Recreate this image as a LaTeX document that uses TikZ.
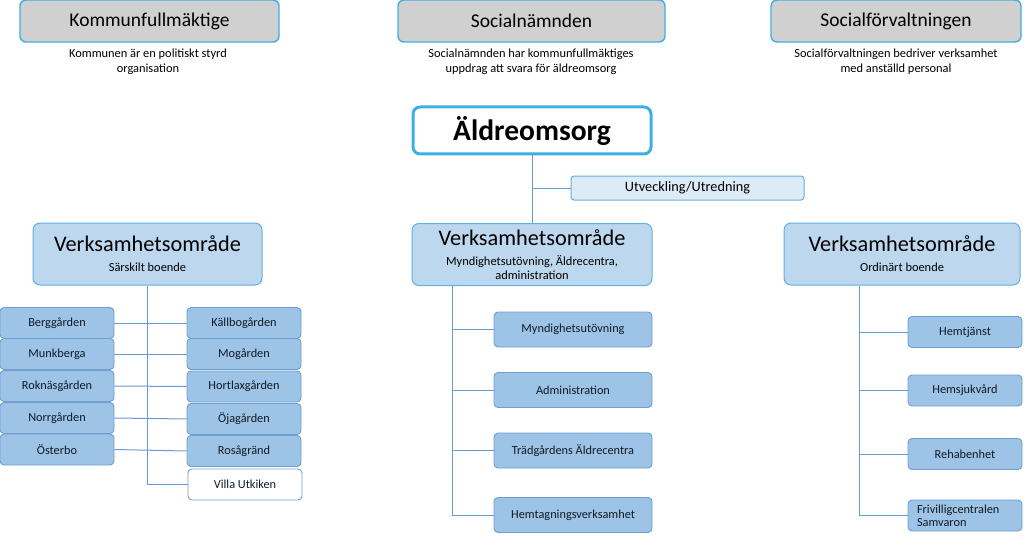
\documentclass[tikz,border=0pt]{standalone}
\usepackage{fontspec}
\setmainfont{Carlito}

\definecolor{framecyan}{HTML}{3DB0E3}
\definecolor{headgray}{HTML}{D0D0D0}
\definecolor{vofill}{HTML}{BDD7EE}
\definecolor{voline}{HTML}{5FB0E2}
\definecolor{unitfill}{HTML}{9DC3E6}
\definecolor{unitline}{HTML}{6E9FD0}
\definecolor{linkline}{HTML}{6A9AD0}
\definecolor{utvfill}{HTML}{DDEBF7}
\definecolor{textdark}{HTML}{111A26}

\newcommand\subfont{\fontsize{12.4}{14.5}\selectfont}

\tikzset{
  headbox/.style={draw=framecyan, line width=1.4pt, fill=headgray, rounded corners=6pt,
    minimum width=259pt, minimum height=42pt, inner sep=0pt, font=\fontsize{19.5}{21}\selectfont},
  headnote/.style={align=center, font=\fontsize{12.4}{15}\selectfont},
  mainbox/.style={draw=framecyan, line width=3pt, fill=white, rounded corners=7pt,
    minimum width=238pt, minimum height=47pt, inner sep=0pt, font=\fontsize{29.5}{32}\bfseries},
  vobox/.style={draw=voline, line width=1pt, fill=vofill, rounded corners=7pt,
    minimum height=62pt, inner sep=0pt, align=center, font=\fontsize{22.3}{22}\selectfont},
  unitbox/.style={draw=unitline, line width=0.9pt, fill=unitfill, rounded corners=4pt,
    minimum width=114pt, minimum height=31pt, inner sep=0pt, text=textdark,
    font=\fontsize{12.3}{13}\selectfont},
  wideunit/.style={unitbox, minimum width=158pt, minimum height=35pt},
  link/.style={draw=linkline, line width=1pt}
}

\begin{document}
\begin{tikzpicture}[x=1pt, y=-1pt]
  \useasboundingbox (0,0) rectangle (1024,540);

  % Top row: the political organisation
  \node[headbox] (kf) at (149.5,21) {Kommunfullmäktige};
  \node[headbox, minimum width=267pt] (sn) at (531.5,21) {Socialnämnden};
  \node[headbox, minimum width=250pt] (sf) at (896,21) {Socialförvaltningen};
  \node[headnote] (kfnote) at (148,62) {Kommunen är en politiskt styrd\\organisation};
  \node[headnote] (snnote) at (531,62) {Socialnämnden har kommunfullmäktiges\\uppdrag att svara för äldreomsorg};
  \node[headnote] (sfnote) at (896,62) {Socialförvaltningen bedriver verksamhet\\med anställd personal};

  % Main box and staff unit
  \node[mainbox] (aldre) at (532,130.5) {Äldreomsorg};
  \node[draw=voline, line width=1pt, fill=utvfill, rounded corners=3pt, minimum width=233pt,
    minimum height=24pt, inner sep=0pt, font=\fontsize{14.3}{16}\selectfont] (utv) at (687.5,188) {Utveckling/Utredning};

  % The three areas
  \node[vobox, minimum width=229pt] (vosar) at (147.5,254) {Verksamhetsområde\\[-2pt]\subfont Särskilt boende};
  \node[vobox, minimum width=240pt] (vomid) at (532,254.5) {Verksamhetsområde\\[-2pt]\subfont Myndighetsutövning, Äldrecentra,\\[-8pt]\subfont administration};
  \node[vobox, minimum width=236pt] (voord) at (902,254) {Verksamhetsområde\\[-2pt]\subfont Ordinärt boende};

  \draw[link] (aldre.south) -- (vomid.north);
  \draw[link] (aldre.south |- utv.west) -- (utv.west);

  % Särskilt boende, two columns
  \node[unitbox] (berg) at (57,323) {Berggården};
  \node[unitbox] (munk) at (57,354) {Munkberga};
  \node[unitbox] (rokn) at (57,386) {Roknäsgården};
  \node[unitbox] (norr) at (57,418) {Norrgården};
  \node[unitbox] (oster) at (57,449.5) {Österbo};
  \node[unitbox] (kall) at (244,323) {Källbogården};
  \node[unitbox] (mog) at (244,354) {Mogården};
  \node[unitbox] (hort) at (244,386.5) {Hortlaxgården};
  \node[unitbox] (oja) at (244,419) {Öjagården};
  \node[unitbox] (rosa) at (244,451) {Rosågränd};
  \node[unitbox, fill=white] (villa) at (245,484.5) {Villa Utkiken};

  \draw[link] (vosar.south) -- (vosar.south |- villa.west) -- (villa.west);
  \draw[link] (berg.east) -- (kall.west);
  \draw[link] (munk.east) -- (mog.west);
  \draw[link] (rokn.east) -- (hort.west);
  \draw[link] (norr.east) -- (oja.west);
  \draw[link] (oster.east) -- (rosa.west);

  % Myndighetsutövning, Äldrecentra, administration
  \node[wideunit] (myn) at (573,329.5) {Myndighetsutövning};
  \node[wideunit] (adm) at (573,390) {Administration};
  \node[wideunit] (trad) at (573,450.5) {Trädgårdens Äldrecentra};
  \node[wideunit] (hemt) at (573,515) {Hemtagningsverksamhet};
  \coordinate (midspine) at ([xshift=41pt]vomid.south west);
  \draw[link] (midspine) -- (midspine |- hemt.west) -- (hemt.west);
  \foreach \unit in {myn,adm,trad}
    \draw[link] (midspine |- \unit.west) -- (\unit.west);

  % Ordinärt boende
  \node[unitbox] (hemtj) at (965,332) {Hemtjänst};
  \node[unitbox] (hemsj) at (965,390.5) {Hemsjukvård};
  \node[unitbox] (rehab) at (965,454) {Rehabenhet};
  \node[unitbox, text width=96pt, align=left, inner xsep=9pt, font=\fontsize{12.3}{13}\selectfont] (friv) at (965,515.5) {Frivilligcentralen\\Samvaron};
  \coordinate (ordspine) at ([xshift=76pt]voord.south west);
  \draw[link] (ordspine) -- (ordspine |- friv.west) -- (friv.west);
  \foreach \unit in {hemtj,hemsj,rehab}
    \draw[link] (ordspine |- \unit.west) -- (\unit.west);
\end{tikzpicture}
\end{document}
